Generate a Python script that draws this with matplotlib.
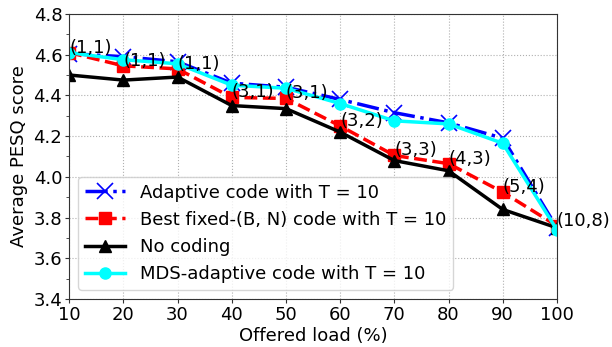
import matplotlib
matplotlib.use('Agg')
import matplotlib.pyplot as plt
from matplotlib.ticker import MultipleLocator

load = [10, 20, 30, 40, 50, 60, 70, 80, 90, 100]
adaptive = [4.605, 4.59, 4.565, 4.46, 4.44, 4.38, 4.315, 4.265, 4.19, 3.75]
best_fixed = [4.61, 4.545, 4.53, 4.39, 4.385, 4.25, 4.105, 4.065, 3.925, 3.76]
no_coding = [4.50, 4.475, 4.49, 4.35, 4.335, 4.22, 4.08, 4.03, 3.84, 3.75]
mds_adaptive = [4.61, 4.575, 4.555, 4.45, 4.435, 4.36, 4.275, 4.26, 4.165, 3.74]
bn_labels = ['(1,1)', '(1,1)', '(1,1)', '(3,1)', '(3,1)', '(3,2)', '(3,3)', '(4,3)', '(5,4)', '(10,8)']

fig = plt.figure(figsize=(6.12, 3.47), dpi=100)
ax = fig.add_axes([0.113, 0.138, 0.797, 0.822])

ax.plot(load, adaptive, 'b-.x', lw=2.5, ms=11, mew=1.2, label='Adaptive code with T = 10')
ax.plot(load, best_fixed, 'r--s', lw=2.5, ms=8, label='Best fixed-(B, N) code with T = 10')
ax.plot(load, no_coding, 'k-^', lw=2.5, ms=8, label='No coding')
ax.plot(load, mds_adaptive, '-o', color='cyan', lw=2.5, ms=8, label='MDS-adaptive code with T = 10')

# rotulos (B, N) sobre os pontos vermelhos
for x, y, txt in zip(load, best_fixed, bn_labels):
    ax.text(x, y, txt, fontsize=13, ha='left', clip_on=False)

ax.set_xlim(10, 100)
ax.set_ylim(3.4, 4.8)
ax.set_xticks(load)
ax.yaxis.set_minor_locator(MultipleLocator(0.1))
ax.tick_params(labelsize=13, length=3, pad=2, color='#333333')
ax.tick_params(which='minor', length=2, color='#333333')
for s in ax.spines.values():
    s.set_color('#333333')
ax.set_xlabel('Offered load (%)', fontsize=13, labelpad=2)
ax.set_ylabel('Average PESQ score', fontsize=13, labelpad=4)
ax.grid(True, linestyle=':', color='#b0b0b0')
ax.legend(loc='lower left', fontsize=13, handlelength=2.2)

fig.savefig('out.png', dpi=100)
